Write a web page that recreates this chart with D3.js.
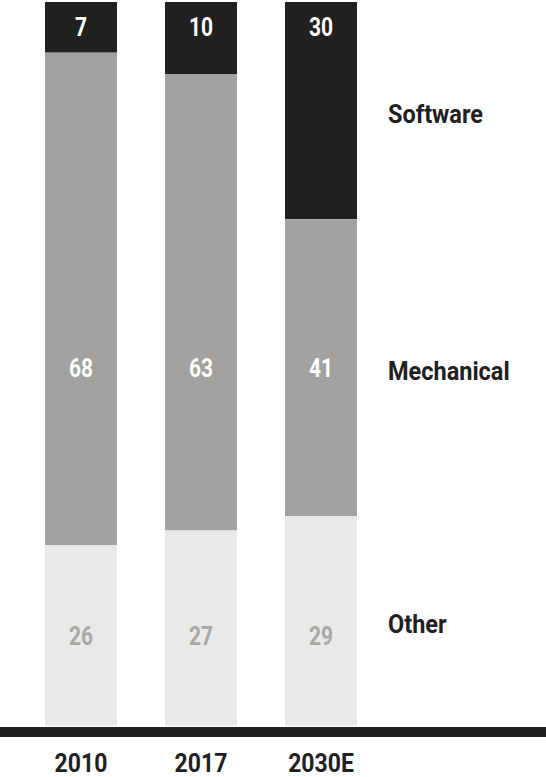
<!DOCTYPE html>
<html>
<head>
<meta charset="utf-8">
<script src="https://cdn.jsdelivr.net/npm/d3@7"></script>
<style>
  html, body { margin: 0; padding: 0; background: #fff; }
  svg { display: block; }
  text { font-family: Roboto, "Noto Sans", sans-serif; font-weight: 700; }
</style>
</head>
<body>
<svg id="chart" width="546" height="777"></svg>
<script>
// Data
const years = ["2010", "2017", "2030E"];
const seriesNames = ["Software", "Mechanical", "Other"]; // top to bottom
const software = [7, 10, 30];
const mechanical = [68, 63, 41];
const other = [26, 27, 29];

const colors = { Software: "#21201e", Mechanical: "#a2a19f", Other: "#e9e9e9" };
const labelColors = { Software: "#ffffff", Mechanical: "#ffffff", Other: "#a8a7a5" };

const W = 546, H = 777;
const plotTop = 2, baseY = 727, baseH = 10;

const rows = years.map((yr, i) => ({ year: yr, Software: software[i], Mechanical: mechanical[i], Other: other[i] }));

const x = d3.scaleBand().domain(years).range([21, 381]).paddingInner(0.4).paddingOuter(0.2);
const y = d3.scaleLinear().domain([0, 100]).range([plotTop, baseY - 1]); // stacked downward from the top

const stacked = d3.stack().keys(seriesNames)(rows);

const svg = d3.select("#chart");

svg.append("defs").append("clipPath").attr("id", "clip")
  .append("rect").attr("x", 0).attr("y", y(0)).attr("width", W).attr("height", y(100) - y(0));

const g = svg.append("g").attr("clip-path", "url(#clip)");

stacked.forEach(s => {
  g.selectAll(null).data(s).enter().append("rect")
    .attr("x", d => x(d.data.year))
    .attr("width", x.bandwidth())
    .attr("y", d => y(d[0]))
    .attr("height", d => y(d[1]) - y(d[0]))
    .attr("fill", colors[s.key]);
});

// Baseline
svg.append("rect").attr("x", 0).attr("y", baseY).attr("width", W).attr("height", baseH).attr("fill", "#21201e");

// Value labels: centre of the range shared by all bars for each series
stacked.forEach(s => {
  const lo = d3.max(s, d => y(d[0]));
  const hi = d3.min(s, d => y(d[1]));
  const cy = (lo + hi) / 2;
  svg.selectAll(null).data(s).enter().append("text")
    .attr("transform", d => `translate(${x(d.data.year) + x.bandwidth() / 2},${cy}) scale(0.84,1)`)
    .attr("text-anchor", "middle")
    .attr("dy", "0.36em")
    .attr("font-size", 25)
    .attr("fill", labelColors[s.key])
    .text(d => d.data[s.key]);
});

// Legend labels: aligned with the last bar's segments
const lastIdx = years.length - 1;
stacked.forEach(s => {
  const d = s[lastIdx];
  const cy = (y(d[0]) + y(d[1])) / 2 + 3;
  svg.append("text")
    .attr("transform", `translate(388,${cy}) scale(0.94,1)`)
    .attr("dy", "0.36em")
    .attr("font-size", 25)
    .attr("fill", "#21201e")
    .text(s.key);
});

// Year labels
svg.selectAll(null).data(years).enter().append("text")
  .attr("transform", d => `translate(${x(d) + x.bandwidth() / 2},772) scale(0.92,1)`)
  .attr("text-anchor", "middle")
  .attr("font-size", 25)
  .attr("fill", "#21201e")
  .text(d => d);
</script>
</body>
</html>
